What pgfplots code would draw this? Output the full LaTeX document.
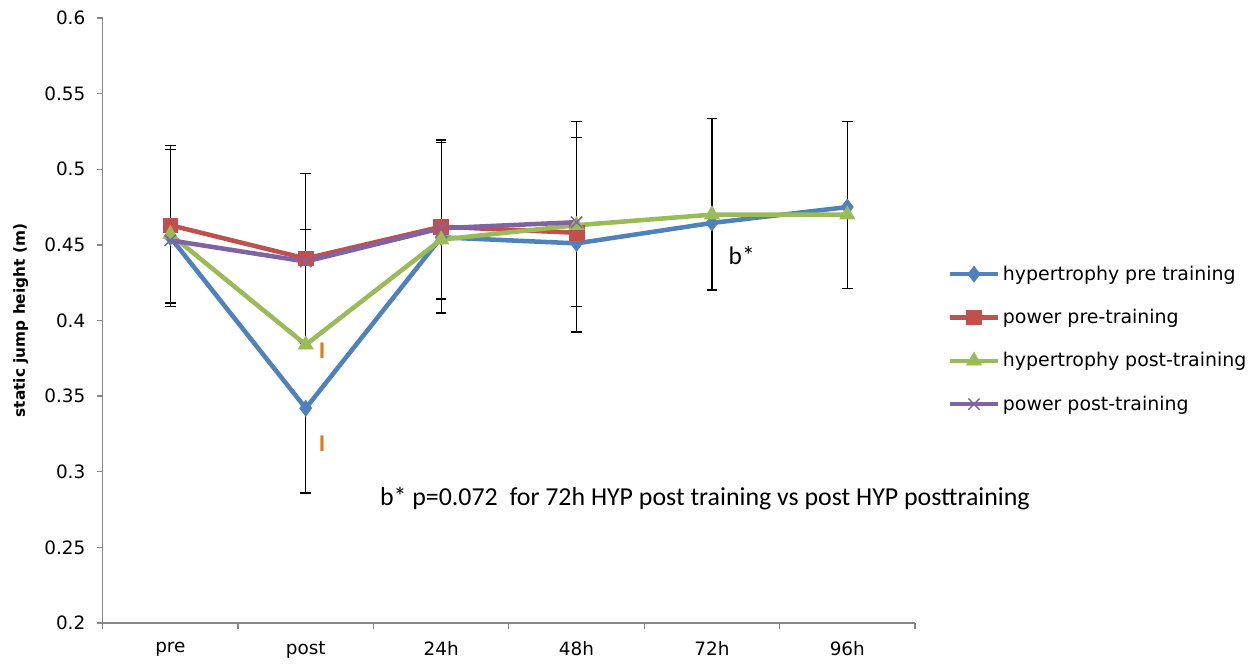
\documentclass[border=0pt]{standalone}
\usepackage{pgfplots}
\pgfplotsset{compat=1.18}
\usepackage{fontspec}
\setmainfont{DejaVu Sans}
\newfontfamily\calibri{Carlito}
\definecolor{cblue}{RGB}{79,129,189}
\definecolor{cred}{RGB}{192,80,77}
\definecolor{cgreen}{RGB}{155,187,89}
\definecolor{cpurple}{RGB}{128,100,162}
\definecolor{axgray}{RGB}{134,134,134}
\definecolor{corange}{RGB}{228,120,20}
\begin{document}
\begin{tikzpicture}
\begin{axis}[
  scale only axis,
  width=609.2pt, height=453.75pt,
  xmin=-0.5, xmax=5.5,
  ymin=0.2, ymax=0.6,
  axis x line*=bottom, axis y line*=left,
  axis line style={axgray, line width=1pt},
  xtick={0,1,2,3,4,5},
  xticklabels={pre,post,24h,48h,72h,96h},
  major x tick style={draw=none},
  minor xtick={-0.5,0.5,1.5,2.5,3.5,4.5,5.5},
  minor x tick style={axgray, line width=1pt},
  minor tick length=4.5pt,
  ytick={0.2,0.25,0.3,0.35,0.4,0.45,0.5,0.55,0.6},
  y tick style={axgray, line width=1pt},
  major tick length=4.5pt,
  tick align=outside,
  yticklabel style={/pgf/number format/fixed, /pgf/number format/precision=2, /pgf/number format/assume math mode=true, font=\fontsize{13.8pt}{15pt}\selectfont, xshift=-5pt},
  xticklabel style={font=\fontsize{13.8pt}{15pt}\selectfont, yshift=-6pt},
  ylabel={\textbf{static jump height (m)}},
  every axis y label/.style={at={(axis description cs:-0.101,0.5)}, rotate=90, anchor=center, font=\fontsize{11.5pt}{13pt}\selectfont},
  legend cell align=left,
  legend style={at={(1.04,0.595)}, anchor=north west, draw=none, fill=none,
    font=\fontsize{14.2pt}{16pt}\selectfont, row sep=16.2pt, inner sep=0pt},
  legend image code/.code={\draw[mark repeat=2,mark phase=2] plot coordinates {(0pt,0pt) (18pt,0pt) (36pt,0pt)};},
  clip=false,
]
% error bars (drawn first, behind lines)
\addplot[draw=none, mark=none, forget plot,
  error bars/.cd, y dir=both, y explicit,
  error bar style={black, line width=0.9pt},
  error mark options={rotate=90, mark size=4pt, black, line width=0.9pt}]
  table[x=x, y=y, y error plus=ep, y error minus=em] {
x y ep em
0 0.455 0.0606 0.046
0 0.463 0.0498 0.0514
1 0.342 0.0 0.056
1 0.441 0.056 0.056
1 0.440 0.020 0.0
2 0.455 0.0643 0.0408
2 0.462 0.0558 0.057
3 0.451 0.0804 0.0586
3 0.458 0.063 0.049
4 0.4645 0.0692 0.0443
5 0.475 0.0564 0.0537
};
\addplot[cblue, line width=3.4pt, mark=diamond*, mark size=6pt, mark options={solid, line width=0.5pt}]
  coordinates {(0,0.455) (1,0.342) (2,0.455) (3,0.451) (4,0.4645) (5,0.475)};
\addlegendentry{hypertrophy pre training}
\addplot[cred, line width=3.4pt, mark=square*, mark size=5.5pt, mark options={solid, line width=0.5pt}]
  coordinates {(0,0.463) (1,0.441) (2,0.462) (3,0.458)};
\addlegendentry{power pre-training}
\addplot[cgreen, line width=3.4pt, mark=triangle*, mark size=6.5pt, mark options={solid, line width=0.5pt}]
  coordinates {(0,0.457) (1,0.384) (2,0.4535) (3,0.463) (4,0.470) (5,0.470)};
\addlegendentry{hypertrophy post-training}
\addplot[cpurple, line width=3.4pt, mark=x, mark size=6pt, mark options={solid, line width=1.1pt}]
  coordinates {(0,0.453) (1,0.439) (2,0.461) (3,0.465)};
\addlegendentry{power post-training}
\node[corange, font=\calibri\bfseries\fontsize{18pt}{20pt}\selectfont] at (axis cs:1.12,0.3802) {I};
\node[corange, font=\calibri\bfseries\fontsize{18pt}{20pt}\selectfont] at (axis cs:1.12,0.3183) {I};
\node[anchor=center, font=\calibri\fontsize{19pt}{22pt}\selectfont] at (axis cs:4.22,0.443) {b*};
\node[anchor=west, inner sep=0pt, font=\calibri\fontsize{19.4pt}{22pt}\selectfont] at (axis cs:1.547,0.2826) {b* p=0.072\ \ for 72h HYP post training vs post HYP posttraining};
\end{axis}
\pgfresetboundingbox
\path[use as bounding box] ([shift={(-77pt,-31.5pt)}]current axis.south west) rectangle ([shift={(258pt,13.5pt)}]current axis.north east);
\end{tikzpicture}
\end{document}
